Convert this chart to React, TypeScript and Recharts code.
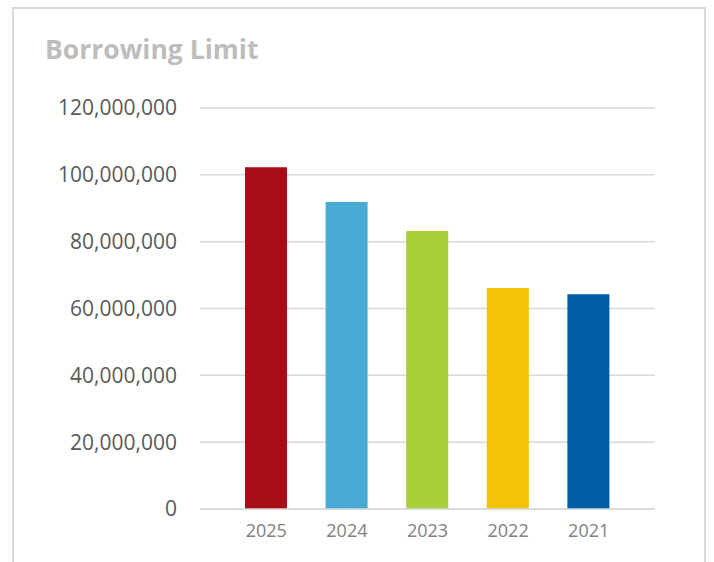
import { BarChart, Bar, XAxis, YAxis, CartesianGrid, Cell } from "recharts";

const years = ["2025", "2024", "2023", "2022", "2021"];
const limits = [102300000, 91900000, 83200000, 66100000, 64300000];
const yTicks = [0, 20000000, 40000000, 60000000, 80000000, 100000000, 120000000];

const barColors = ["#a50e15", "#48abd5", "#a8cf38", "#f5c208", "#005ca4"];

const data = years.map((year, i) => ({ year, limit: limits[i] }));

const fmt = (v: number) => v.toLocaleString("en-US");

export default function App() {
  return (
    <div style={{ position: "absolute", left: 0, top: 0, width: 714, height: 562, overflow: "hidden", background: "#fff" }}>
      {/* chart frame, bottom edge runs off the picture */}
      <div
        style={{
          position: "absolute",
          left: 12,
          top: 7,
          width: 694,
          height: 600,
          border: "2px solid #d9d9d9",
          boxSizing: "border-box",
        }}
      />
      <div
        style={{
          position: "absolute",
          left: 45,
          top: 32,
          fontFamily: "'Open Sans', sans-serif",
          fontWeight: 700,
          fontSize: 26.5,
          color: "#bdbdbd",
          lineHeight: "34px",
          whiteSpace: "nowrap",
        }}
      >
        Borrowing Limit
      </div>
      <div style={{ position: "absolute", left: 0, top: 0 }}>
        <BarChart
          width={714}
          height={562}
          data={data}
          margin={{ top: 108, right: 59, bottom: 0, left: 0 }}
        >
          <CartesianGrid vertical={false} stroke="#d9d9d9" strokeWidth={1.5} />
          <XAxis
            dataKey="year"
            axisLine={{ stroke: "#d9d9d9", strokeWidth: 1.5 }}
            tickLine={false}
            tickMargin={9}
            padding={{ left: 26, right: 26 }}
            height={53}
            tick={{ fill: "#808080", fontSize: 18, fontFamily: "'Open Sans', sans-serif" }}
          />
          <YAxis
            width={200}
            domain={[0, 120000000]}
            ticks={yTicks}
            tickFormatter={fmt}
            axisLine={false}
            tickLine={false}
            tickMargin={17}
            tick={{ fill: "#595959", fontSize: 21, fontFamily: "'Open Sans', sans-serif" }}
          />
          <Bar dataKey="limit" barSize={42} isAnimationActive={false}>
            {data.map((d, i) => (
              <Cell key={d.year} fill={barColors[i]} />
            ))}
          </Bar>
        </BarChart>
      </div>
    </div>
  );
}
